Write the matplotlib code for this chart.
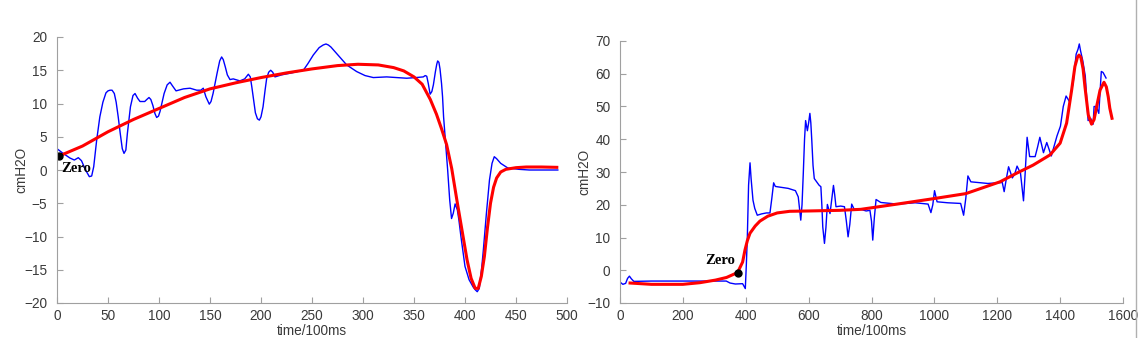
import matplotlib.pyplot as plt
from matplotlib.lines import Line2D

# left panel: measured pressure (blue) and fitted curve (red)
t_meas_a = [0, 6, 12.7, 17, 20.9, 24, 28, 31.7, 34, 36, 38.9, 42, 45, 48, 50, 52, 54, 56.2,
            58, 60, 62, 64, 65.7, 67.5, 69, 72, 74.5, 76.5, 79, 81.4, 86, 88, 90.2, 92,
            94, 96, 97.7, 99.5, 101, 105, 108, 110.8, 113, 116.7, 124, 130.4, 137, 141,
            143.4, 146, 149.3, 151, 153, 157, 159.5, 161.4, 163, 165, 167, 169.6, 172.8,
            179.3, 184, 187.6, 189.5, 191, 193, 194.5, 196.5, 198.4, 200, 202, 204, 205.5,
            207.5, 209.5, 211.5, 213.7, 220, 230, 241.5, 246, 251.3, 257, 261, 263.7,
            266, 268.5, 274.2, 284, 293.8, 302, 310.1, 323.2, 333, 342.8, 352, 359.1, 361,
            362.5, 364, 365.8, 367.5, 369, 371, 372.3, 373.2, 374.4, 375.5, 377, 378, 379,
            381, 383, 385, 386.8, 388.5, 390.3, 392.5, 394, 396, 400, 404, 408, 410, 412,
            414, 415, 416.5, 418, 421, 424, 426.5, 428.7, 431, 435, 442, 453, 463, 474, 491]
p_meas_a = [3.2, 2.5, 1.8, 1.5, 1.85, 1.4, 0.0, -1.0, -0.9, 0.5, 4.5, 8.0, 10.2, 11.6,
            11.9, 12.0, 12.0, 11.5, 10.2, 8.0, 5.5, 3.2, 2.5, 3.0, 5.5, 9.5, 11.2, 11.5,
            10.8, 10.3, 10.3, 10.6, 10.9, 10.6, 9.7, 8.5, 7.9, 8.1, 8.8, 11.5, 12.8, 13.2,
            12.7, 11.9, 12.2, 12.3, 12.0, 12.0, 12.3, 11.0, 9.9, 10.3, 11.5, 14.6, 16.4,
            17.0, 16.6, 15.5, 14.3, 13.6, 13.7, 13.4, 13.7, 14.4, 14.0, 12.5, 10.2, 8.6,
            7.7, 7.5, 8.0, 9.5, 12.0, 13.7, 14.7, 15.0, 14.7, 14.0, 14.3, 14.6, 15.0, 16.0,
            17.3, 18.4, 18.8, 18.95, 18.8, 18.5, 17.5, 15.8, 14.8, 14.2, 13.9, 14.0, 13.9,
            13.8, 13.9, 14.0, 14.2, 14.1, 13.0, 11.4, 11.8, 12.8, 14.8, 15.9, 16.4, 16.2,
            15.2, 13.0, 11.0, 8.0, 4.0, 0.0, -4.5, -7.3, -6.5, -5.1, -6.0, -7.5, -10.0,
            -14.5, -16.5, -17.6, -18.0, -18.3, -17.8, -16.5, -14.5, -12.0, -6.5, -1.5, 1.0,
            2.0, 1.7, 1.0, 0.3, 0.1, 0.0, 0.0, 0.0]
t_fit_a = [2, 25, 50, 75, 100, 125, 150, 175, 200, 225, 250, 275, 295, 315, 330, 340, 350,
           358, 366, 372, 377, 382, 387, 392, 397, 402, 406, 410, 413, 416, 419, 422, 425,
           428, 431, 435, 440, 450, 460, 475, 490]
p_fit_a = [2.1, 3.6, 5.75, 7.6, 9.25, 10.9, 12.2, 13.1, 13.9, 14.6, 15.2, 15.7, 15.9, 15.8,
           15.4, 14.9, 14.0, 12.9, 10.6, 8.4, 6.2, 3.8, 0.2, -4.5, -9.0, -13.5, -16.3,
           -17.8, -17.8, -16.0, -13.0, -8.7, -5.0, -2.6, -1.2, -0.3, 0.1, 0.35, 0.45,
           0.45, 0.4]
zero_a = (2, 2.1)

# right panel
t_meas_b = [0, 9, 18, 24, 30, 36, 44, 100, 200, 300, 338, 350, 367, 390, 398.6, 402, 405,
            409, 413.6, 417, 423, 428.6, 436.7, 450, 465.6, 477, 483, 488.7, 494, 500,
            535, 558, 567, 572, 575, 579, 583, 587, 590.4, 596, 600, 604, 607, 610, 614,
            618, 633, 639, 642, 645, 650.4, 655, 659.6, 668, 674, 679, 683, 687, 702, 714,
            720, 725.5, 731, 737, 745, 766, 783, 795, 800, 804, 809, 814.5, 829.5, 881.5,
            939, 980, 989, 995, 1000.5, 1008.6, 1043, 1083.6, 1093, 1100, 1106.7, 1116,
            1170, 1216, 1222, 1229, 1236, 1248, 1256, 1263, 1274, 1283.5, 1289, 1295,
            1303, 1320.5, 1328, 1335.5, 1347, 1357.5, 1372, 1390, 1401, 1410, 1419,
            1430.4, 1442, 1451, 1457, 1461, 1465, 1472, 1480, 1489, 1497, 1505, 1508,
            1515, 1523, 1531, 1536.5, 1546]
p_meas_b = [-3.6, -4.3, -4.0, -2.5, -1.8, -2.6, -3.4, -3.3, -3.3, -3.3, -3.3, -3.9, -4.2,
            -4.1, -5.6, 2.0, 10.0, 26.0, 32.8, 28.0, 21.4, 18.9, 16.8, 17.2, 17.5, 17.5,
            22.0, 26.7, 25.6, 25.5, 25.0, 24.3, 22.4, 18.0, 15.3, 20.0, 29.5, 40.0, 45.7,
            42.6, 45.0, 47.9, 45.0, 39.8, 32.0, 28.0, 26.0, 25.5, 20.0, 13.2, 8.2, 13.0,
            20.1, 17.3, 22.0, 25.9, 23.0, 19.4, 19.6, 19.4, 15.0, 10.2, 14.0, 20.2, 18.6,
            18.6, 18.1, 18.3, 15.0, 9.2, 16.0, 21.6, 20.7, 20.2, 20.6, 20.2, 17.6, 20.0,
            24.3, 20.9, 20.6, 20.4, 16.8, 22.0, 28.8, 27.0, 26.5, 26.8, 24.0, 28.0, 31.6,
            28.2, 29.5, 31.8, 29.6, 21.2, 30.0, 40.6, 34.7, 34.7, 37.5, 40.6, 35.9, 39.0,
            34.9, 41.0, 44.0, 50.0, 53.2, 51.4, 57.8, 66.0, 67.5, 69.1, 67.0, 64.0, 59.3,
            45.7, 46.4, 44.6, 50.0, 50.0, 47.9, 60.7, 60.4, 58.7]
t_fit_b = [32, 100, 200, 254, 304, 339, 374, 390, 397.6, 405, 413.5, 430, 445, 470, 500,
           540, 601, 700, 766, 881.5, 1000, 1100, 1208.7, 1261, 1314, 1367.6, 1400,
           1420.6, 1436.6, 1447, 1455, 1460, 1466, 1473, 1479, 1489.6, 1500, 1508, 1516,
           1527, 1539.5, 1547, 1553, 1558, 1565]
p_fit_b = [-3.9, -4.3, -4.3, -3.8, -3.0, -2.2, -0.7, 2.5, 6.2, 9.0, 11.3, 13.5, 15.0, 16.5,
           17.5, 18.0, 18.1, 18.3, 18.6, 20.2, 21.9, 23.4, 27.0, 29.6, 32.1, 35.2, 38.8,
           44.9, 55.0, 62.2, 65.0, 65.7, 65.0, 61.5, 56.0, 47.4, 44.6, 46.0, 49.9, 55.0,
           57.4, 56.0, 53.0, 49.5, 46.4]
zero_b = (374, -0.7)

plt.rcParams['font.family'] = ['Liberation Sans', 'DejaVu Sans']
plt.rcParams['font.size'] = 9.8

fig = plt.figure(figsize=(11.39, 3.38), dpi=100)
ax1 = fig.add_axes([57 / 1139, 1 - 303 / 338, 510 / 1139, 266 / 338])
ax2 = fig.add_axes([620 / 1139, 1 - 303 / 338, 503 / 1139, 262 / 338])

gray = '#3a3a3a'
for ax in (ax1, ax2):
    ax.spines['top'].set_visible(False)
    ax.spines['right'].set_visible(False)
    for s in ('left', 'bottom'):
        ax.spines[s].set_color('#a0a0a0')
        ax.spines[s].set_linewidth(0.8)
    ax.tick_params(direction='in', length=4, colors='#a0a0a0', labelcolor=gray, width=0.8)
    ax.tick_params(axis='y', pad=7)
    ax.tick_params(axis='x', pad=4)
    ax.set_xlabel('time/100ms', color=gray, labelpad=1)
    ax.set_ylabel('cmH2O', color=gray, labelpad=-3)

ax1.plot(t_meas_a, p_meas_a, color='#0000ff', lw=1.0)
ax1.plot(t_fit_a, p_fit_a, color='#ff0000', lw=2.2)
ax1.plot(*zero_a, 'ko', ms=5)
ax1.text(4, 0.3, 'Zero', family='Liberation Serif', weight='bold', fontsize=10.5,
         ha='left', va='center')
ax1.set_xlim(0, 500)
ax1.set_ylim(-20, 20)
ax1.set_xticks(range(0, 501, 50))
ax1.set_yticks(range(-20, 21, 5))

ax2.plot(t_meas_b, p_meas_b, color='#0000ff', lw=1.0)
ax2.plot(t_fit_b, p_fit_b, color='#ff0000', lw=2.2)
ax2.plot(*zero_b, 'ko', ms=5)
ax2.text(366, 2.9, 'Zero', family='Liberation Serif', weight='bold', fontsize=10.5,
         ha='right', va='center')
ax2.set_xlim(0, 1600)
ax2.set_ylim(-10, 70)
ax2.set_xticks(range(0, 1601, 200))
ax2.set_yticks(range(-10, 71, 10))

# thin border at the right edge of the picture
fig.add_artist(Line2D([1136 / 1139, 1136 / 1139], [0, 1], color='#b0b0b0', lw=1))

fig.savefig('out.png', dpi=100)
